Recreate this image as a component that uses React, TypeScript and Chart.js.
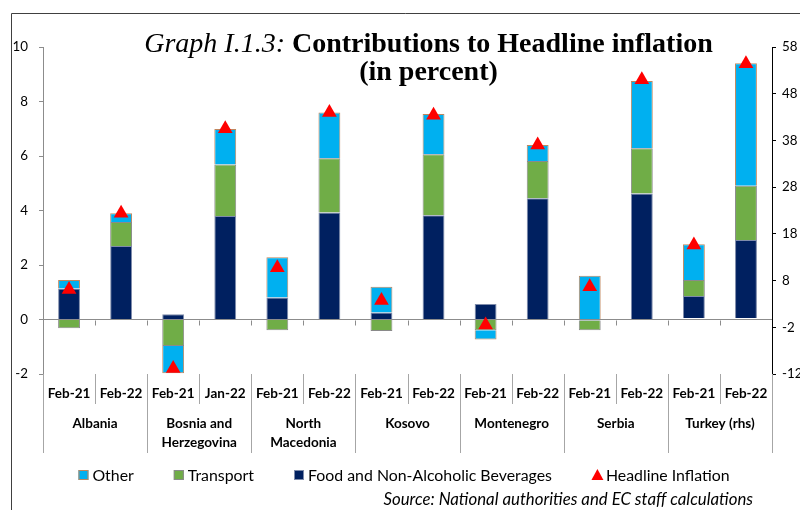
import React, { useEffect, useRef } from "react";
import { Chart, registerables } from "chart.js";

Chart.register(...registerables);

// ---------- data ----------
const months = ["Feb-21", "Feb-22", "Feb-21", "Jan-22", "Feb-21", "Feb-22", "Feb-21", "Feb-22", "Feb-21", "Feb-22", "Feb-21", "Feb-22", "Feb-21", "Feb-22"];
const countries = [["Albania"], ["Bosnia and", "Herzegovina"], ["North", "Macedonia"], ["Kosovo"], ["Montenegro"], ["Serbia"], ["Turkey (rhs)"]];

// left-hand scale (percentage points)
const food = [1.14, 2.7, 0.19, 3.8, 0.81, 3.93, 0.26, 3.83, 0.57, 4.45, -0.04, 4.62, null, null];
const transport = [-0.32, 0.88, -0.97, 1.89, -0.39, 1.99, -0.42, 2.23, -0.39, 1.37, -0.35, 1.66, null, null];
const other = [0.31, 0.32, -1.0, 1.3, 1.47, 1.68, 0.94, 1.48, -0.34, 0.58, 1.61, 2.47, null, null];
const headline = [1.1, 3.9, -1.8, 7.0, 1.9, 7.6, 0.7, 7.5, -0.2, 6.4, 1.2, 8.8, null, null];

// right-hand scale (Turkey)
const foodRhs = [null, null, null, null, null, null, null, null, null, null, null, null, 4.7, 16.7];
const transportRhs = [null, null, null, null, null, null, null, null, null, null, null, null, 3.4, 11.6];
const otherRhs = [null, null, null, null, null, null, null, null, null, null, null, null, 7.7, 26.2];
const headlineRhs = [null, null, null, null, null, null, null, null, null, null, null, null, 15.6, 54.4];

const leftMin = -2, leftMax = 10, leftStep = 2;
const rightMin = -12, rightMax = 58, rightStep = 10;

const seriesNames = ["Other", "Transport", "Food and Non-Alcoholic Beverages", "Headline Inflation"];
const titleItalic = "Graph I.1.3: ";
const titleBold = "Contributions to Headline inflation";
const titleLine2 = "(in percent)";
const sourceText = "Source: National authorities and EC staff calculations";

// ---------- styles ----------
const C_OTHER = "#00B0F0";
const C_TRANSPORT = "#70AD47";
const C_FOOD = "#002060";
const C_HEAD = "#FF0000";
const SANS = "Lato";
const SERIF = '"Liberation Serif"';

const mctx = document.createElement("canvas").getContext("2d") as CanvasRenderingContext2D;
function fit(text: string, style: string, family: string, target: number) {
  mctx.font = `${style} 100px ${family}`;
  const w = mctx.measureText(text).width;
  return (100 * target) / w;
}

const monthSize = fit("Feb-21", "bold", SANS, 42.7);
const numSize = fit("10", "", SANS, 15.5);
const legendSize = fit(seriesNames[2], "", SANS, 244);
const sourceSize = fit(sourceText, "italic", SANS, 370);

const overlay = {
  id: "overlay",
  afterDraw(chart: any) {
    const ctx: CanvasRenderingContext2D = chart.ctx;
    const xs = chart.scales.x;
    const ys = chart.scales.y;
    const area = chart.chartArea;
    const half = (xs.getPixelForValue(1) - xs.getPixelForValue(0)) / 2;
    ctx.save();

    // frame
    ctx.strokeStyle = "#404040";
    ctx.lineWidth = 1;
    ctx.beginPath();
    ctx.moveTo(11.5, 510);
    ctx.lineTo(11.5, 13.5);
    ctx.lineTo(800, 13.5);
    ctx.stroke();

    // small ticks at zero line
    const zeroY = Math.round(ys.getPixelForValue(0)) + 0.5;
    ctx.strokeStyle = "#8c8c8c";
    ctx.beginPath();
    for (let i = 1; i < months.length; i++) {
      const bx = Math.round(xs.getPixelForValue(i) - half) + 0.5;
      ctx.moveTo(bx, zeroY);
      ctx.lineTo(bx, zeroY + 5);
    }
    ctx.stroke();

    // category separators
    ctx.strokeStyle = "#a6a6a6";
    ctx.beginPath();
    for (let i = 0; i <= months.length; i++) {
      const bx = Math.round(xs.getPixelForValue(i) - half) + 0.5;
      const isGroup = i % 2 === 0;
      ctx.moveTo(bx, area.bottom);
      ctx.lineTo(bx, area.bottom + (isGroup ? 79 : 30));
    }
    ctx.stroke();

    // group labels
    ctx.fillStyle = "#000";
    ctx.font = `bold ${monthSize}px ${SANS}`;
    ctx.textAlign = "center";
    ctx.textBaseline = "middle";
    countries.forEach((lines, g) => {
      const cx = (xs.getPixelForValue(2 * g) + xs.getPixelForValue(2 * g + 1)) / 2;
      lines.forEach((ln, k) => ctx.fillText(ln, cx, area.bottom + 50 + k * 19));
    });

    // title
    ctx.textBaseline = "alphabetic";
    ctx.textAlign = "left";
    ctx.font = `italic 28px ${SERIF}`;
    const w1 = ctx.measureText(titleItalic).width;
    ctx.font = `bold 28px ${SERIF}`;
    const w2 = ctx.measureText(titleBold).width;
    const tx = 428.5 - (w1 + w2) / 2;
    ctx.font = `italic 28px ${SERIF}`;
    ctx.fillText(titleItalic, tx, 52);
    ctx.font = `bold 28px ${SERIF}`;
    ctx.fillText(titleBold, tx + w1, 52);
    ctx.textAlign = "center";
    ctx.fillText(titleLine2, 428.5, 80);

    // legend
    ctx.font = `${legendSize}px ${SANS}`;
    ctx.textAlign = "left";
    ctx.textBaseline = "middle";
    const colors = [C_OTHER, C_TRANSPORT, C_FOOD, C_HEAD];
    const borders = ["#C0875E", "#8a8a8a", "#7f8cab", C_HEAD];
    const gap = 40;
    const widths = seriesNames.map((s) => 14 + ctx.measureText(s).width);
    const total = widths.reduce((a, b) => a + b, 0) + gap * (widths.length - 1);
    let lx = 404 - total / 2;
    const ly = 475;
    seriesNames.forEach((s, i) => {
      if (i < 3) {
        ctx.fillStyle = colors[i];
        ctx.fillRect(lx, ly - 5, 10, 10);
        ctx.strokeStyle = borders[i];
        ctx.strokeRect(lx + 0.5, ly - 4.5, 9, 9);
      } else {
        ctx.fillStyle = C_HEAD;
        ctx.beginPath();
        ctx.moveTo(lx + 5.5, ly - 6);
        ctx.lineTo(lx + 11.5, ly + 5);
        ctx.lineTo(lx - 0.5, ly + 5);
        ctx.closePath();
        ctx.fill();
      }
      ctx.fillStyle = "#000";
      ctx.fillText(s, lx + 14, ly + 1);
      lx += widths[i] + gap;
    });

    // source
    ctx.font = `italic ${sourceSize}px ${SANS}`;
    ctx.textAlign = "right";
    ctx.fillText(sourceText, 753, 500);
    ctx.restore();
  },
};

export default function App() {
  const ref = useRef<HTMLCanvasElement | null>(null);
  useEffect(() => {
    if (!ref.current) return;
    const barCommon = { stack: "s", borderWidth: 1, barPercentage: 0.42, categoryPercentage: 1.0 };
    const chart = new Chart(ref.current, {
      type: "bar",
      data: {
        labels: months,
        datasets: [
          { ...barCommon, label: seriesNames[2], data: food, backgroundColor: C_FOOD, borderColor: "#7f8cab", yAxisID: "y" },
          { ...barCommon, label: seriesNames[1], data: transport, backgroundColor: C_TRANSPORT, borderColor: "#8a8a8a", yAxisID: "y" },
          { ...barCommon, label: seriesNames[0], data: other, backgroundColor: C_OTHER, borderColor: "#C0875E", yAxisID: "y" },
          { ...barCommon, label: seriesNames[2] + " (rhs)", data: foodRhs, backgroundColor: C_FOOD, borderColor: "#7f8cab", yAxisID: "y1" },
          { ...barCommon, label: seriesNames[1] + " (rhs)", data: transportRhs, backgroundColor: C_TRANSPORT, borderColor: "#8a8a8a", yAxisID: "y1" },
          { ...barCommon, label: seriesNames[0] + " (rhs)", data: otherRhs, backgroundColor: C_OTHER, borderColor: "#C0875E", yAxisID: "y1" },
          {
            type: "line", label: seriesNames[3], data: headline, yAxisID: "y", showLine: false, order: -1,
            pointStyle: "triangle", pointRadius: 8.5, pointBackgroundColor: C_HEAD, pointBorderWidth: 0, borderColor: C_HEAD, clip: false,
          } as any,
          {
            type: "line", label: seriesNames[3] + " (rhs)", data: headlineRhs, yAxisID: "y1", showLine: false, order: -1,
            pointStyle: "triangle", pointRadius: 8.5, pointBackgroundColor: C_HEAD, pointBorderWidth: 0, borderColor: C_HEAD, clip: false,
          } as any,
        ],
      },
      options: {
        responsive: false,
        animation: false,
        events: [],
        layout: { padding: { left: 0, right: 0, top: 47, bottom: 52 } },
        plugins: { legend: { display: false }, tooltip: { enabled: false }, title: { display: false } },
        scales: {
          x: {
            stacked: true,
            offset: true,
            grid: { display: false, drawTicks: false },
            border: { display: false },
            ticks: { autoSkip: false, maxRotation: 0, padding: 12, color: "#000", font: { family: SANS, size: monthSize, weight: "bold" } },
            afterFit: (s: any) => { s.height = 84; },
          },
          y: {
            stacked: true,
            position: "left",
            min: leftMin,
            max: leftMax,
            ticks: { stepSize: leftStep, padding: 11, color: "#000", font: { family: SANS, size: numSize } },
            grid: {
              color: (c: any) => (c.tick && c.tick.value === 0 ? "#8c8c8c" : "rgba(0,0,0,0)"),
              tickColor: "#8c8c8c",
              tickLength: 4,
            },
            border: { display: true, color: "#8c8c8c" },
            afterFit: (s: any) => { s.width = 43; },
          },
          y1: {
            stacked: true,
            position: "right",
            min: rightMin,
            max: rightMax,
            ticks: { stepSize: rightStep, padding: 6, color: "#000", font: { family: SANS, size: numSize } },
            grid: { drawOnChartArea: false, tickColor: "#000", tickLength: 4 },
            border: { display: true, color: "#000" },
            afterFit: (s: any) => { s.width = 28; },
          },
        },
      } as any,
      plugins: [overlay],
    });
    return () => chart.destroy();
  }, []);
  return (
    <div style={{ position: "absolute", left: 0, top: 0, width: 800, height: 510, background: "#fff" }}>
      <canvas ref={ref} width={800} height={510} />
    </div>
  );
}
